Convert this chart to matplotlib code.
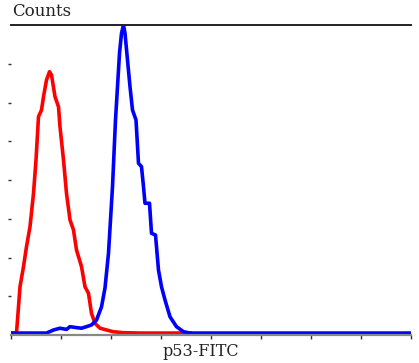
import matplotlib
matplotlib.use("Agg")
import matplotlib.pyplot as plt

# Histogram traces (channel, counts)
red_x = [0, 11, 15, 18, 25, 31, 38, 45, 50, 55, 61, 65, 71, 77, 81, 88, 95, 98,
         105, 111, 118, 125, 131, 141, 148, 155, 161, 168, 178, 191, 204, 224, 260, 358]
red_y = [1.0, 1.0, 14.6, 24.9, 35.3, 45.6, 55.9, 73.1, 90.3, 112.7, 116.1, 123.0,
         131.6, 135.9, 134.2, 123.0, 117.8, 107.5, 90.3, 73.1, 59.4, 54.2, 43.9,
         35.3, 24.9, 21.5, 11.2, 6.0, 3.5, 2.6, 1.7, 1.2, 1.0, 1.0]

blue_x = [0, 40, 71, 85, 98, 111, 118, 131, 141, 151, 161, 171, 181, 188, 195,
          199, 203, 206, 209, 213, 217, 221, 225, 228, 233, 238, 243, 250, 255,
          261, 265, 268, 277, 281, 289, 295, 301, 308, 318, 331, 345, 358, 798]
blue_y = [1.0, 1.0, 1.0, 2.6, 3.5, 2.9, 4.3, 3.8, 3.5, 4.3, 5.2, 7.7, 14.5, 24.3,
          42.2, 59.4, 76.5, 93.8, 111.0, 128.2, 145.4, 155.7, 160.0, 155.7, 141.9,
          128.2, 116.1, 111.0, 88.6, 86.9, 76.5, 68.0, 68.0, 52.5, 51.6, 33.5,
          24.9, 18.1, 9.4, 4.3, 1.7, 1.0, 1.0]

x_ticks = [0, 100, 200, 300, 400, 500, 600, 700, 800]
y_ticks = [20, 40, 60, 80, 100, 120, 140]

W, H = 419, 363
fig = plt.figure(figsize=(W / 100, H / 100), dpi=100)
ax = fig.add_axes([11 / W, (H - 335) / H, 400 / W, 310 / H])

ax.plot(red_x, red_y, color="#ff0000", linewidth=2.6, solid_joinstyle="round")
ax.plot(blue_x, blue_y, color="#0000ff", linewidth=2.6, solid_joinstyle="round")

ax.set_xlim(0, 800)
ax.set_ylim(0, 160)
ax.set_xticks(x_ticks)
ax.set_yticks(y_ticks)
ax.set_xticklabels([])
ax.set_yticklabels([])
ax.tick_params(axis="x", direction="out", length=3, width=1, color="#333333")
ax.tick_params(axis="y", direction="out", length=2.5, width=1, color="#333333", pad=2)

ax.spines["left"].set_visible(False)
ax.spines["right"].set_visible(False)
ax.spines["top"].set_color("#222222")
ax.spines["top"].set_linewidth(1.4)
ax.spines["bottom"].set_color("#888888")
ax.spines["bottom"].set_linewidth(1.6)

fig.text(12 / W, 1 - 12 / H, "Counts", family="DejaVu Serif", fontsize=12,
         color="#222222", ha="left", va="center")
fig.text(201 / W, 1 - 351 / H, "p53-FITC", family="DejaVu Serif", fontsize=11.5,
         color="#222222", ha="center", va="center")

fig.savefig("out.png", dpi=100)
